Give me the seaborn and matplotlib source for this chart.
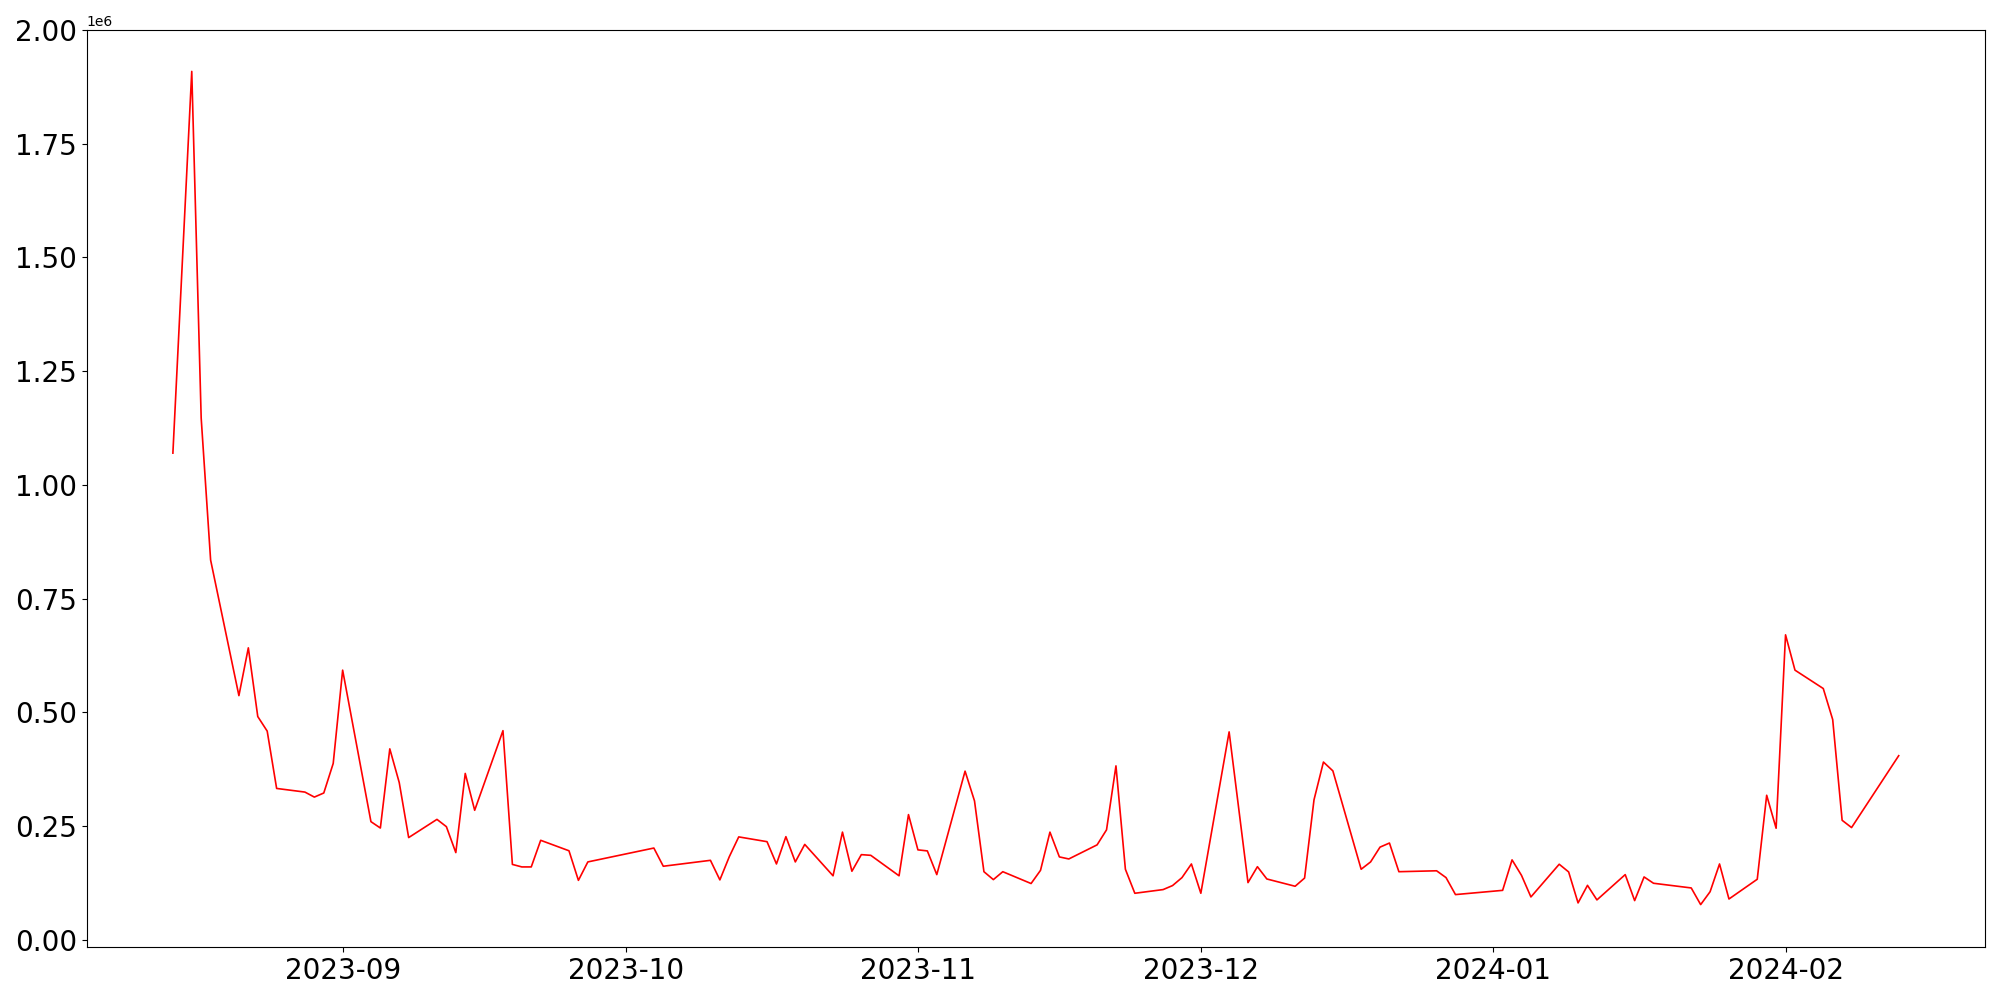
import pandas as pd
import numpy as np
import seaborn as sns
import matplotlib
matplotlib.use("Agg")
import matplotlib.pyplot as plt
import matplotlib.dates as mdates

# trading days
dates = [
    "2023-08-14", "2023-08-16", "2023-08-17", "2023-08-18",
    "2023-08-21", "2023-08-22", "2023-08-23", "2023-08-24", "2023-08-25",
    "2023-08-28", "2023-08-29", "2023-08-30", "2023-08-31", "2023-09-01",
    "2023-09-04", "2023-09-05", "2023-09-06", "2023-09-07", "2023-09-08",
    "2023-09-11", "2023-09-12", "2023-09-13", "2023-09-14", "2023-09-15",
    "2023-09-18", "2023-09-19", "2023-09-20", "2023-09-21", "2023-09-22",
    "2023-09-25", "2023-09-26", "2023-09-27",
    "2023-10-04", "2023-10-05",
    "2023-10-10", "2023-10-11", "2023-10-12", "2023-10-13",
    "2023-10-16", "2023-10-17", "2023-10-18", "2023-10-19", "2023-10-20",
    "2023-10-23", "2023-10-24", "2023-10-25", "2023-10-26", "2023-10-27",
    "2023-10-30", "2023-10-31", "2023-11-01", "2023-11-02", "2023-11-03",
    "2023-11-06", "2023-11-07", "2023-11-08", "2023-11-09", "2023-11-10",
    "2023-11-13", "2023-11-14", "2023-11-15", "2023-11-16", "2023-11-17",
    "2023-11-20", "2023-11-21", "2023-11-22", "2023-11-23", "2023-11-24",
    "2023-11-27", "2023-11-28", "2023-11-29", "2023-11-30", "2023-12-01",
    "2023-12-04", "2023-12-06", "2023-12-07", "2023-12-08",
    "2023-12-11", "2023-12-12", "2023-12-13", "2023-12-14", "2023-12-15",
    "2023-12-18", "2023-12-19", "2023-12-20", "2023-12-21", "2023-12-22",
    "2023-12-26", "2023-12-27", "2023-12-28",
    "2024-01-02", "2024-01-03", "2024-01-04", "2024-01-05",
    "2024-01-08", "2024-01-09", "2024-01-10", "2024-01-11", "2024-01-12",
    "2024-01-15", "2024-01-16", "2024-01-17", "2024-01-18",
    "2024-01-22", "2024-01-23", "2024-01-24", "2024-01-25", "2024-01-26",
    "2024-01-29", "2024-01-30", "2024-01-31", "2024-02-01", "2024-02-02",
    "2024-02-05", "2024-02-06", "2024-02-07", "2024-02-08",
    "2024-02-13",
]

volume = [
    1070000, 1909000, 1147000, 835000,
    537000, 642000, 491000, 459000, 333000,
    325000, 314000, 323000, 388000, 593000,
    260000, 246000, 420000, 346000, 225000,
    265000, 249000, 192000, 366000, 285000,
    460000, 166000, 160500, 160500, 219000,
    196000, 131000, 171500,
    202000, 162000,
    175000, 132000, 183000, 226500,
    216000, 167000, 227000, 171500, 210000,
    141000, 237000, 151000, 187500, 186000,
    141000, 275500, 198000, 195700, 143600,
    371000, 305600, 150000, 132600, 150000,
    124000, 153000, 237000, 182500, 178000,
    209000, 242000, 382600, 155400, 102600,
    110700, 119500, 137000, 167000, 102600,
    457300, 126000, 161000, 134000,
    118000, 136000, 308000, 391000, 371600,
    155400, 171500, 204000, 213000, 150000,
    152000, 137000, 99700,
    109000, 176000, 142000, 94500,
    166400, 149500, 81400, 120000, 88000,
    143600, 86500, 138500, 124600,
    114300, 77700, 106000, 167000, 90000,
    133400, 318000, 245500, 670600, 593000,
    552600, 484400, 263000, 247000,
    405000,
]

df = pd.DataFrame({"date": pd.to_datetime(dates), "volume": volume})

fig, ax = plt.subplots(figsize=(20, 10), dpi=100)
sns.lineplot(data=df, x="date", y="volume", color="red", linewidth=1.2, ax=ax)

ax.set_ylim(-15500, 2000000)
ax.xaxis.set_major_locator(mdates.MonthLocator())
ax.xaxis.set_major_formatter(mdates.DateFormatter("%Y-%m"))
ax.tick_params(axis="both", labelsize=20)
ax.set_xlabel("")
ax.set_ylabel("")

fig.subplots_adjust(left=0.0433, right=0.9925, top=0.970, bottom=0.053)
fig.savefig("out.png")
